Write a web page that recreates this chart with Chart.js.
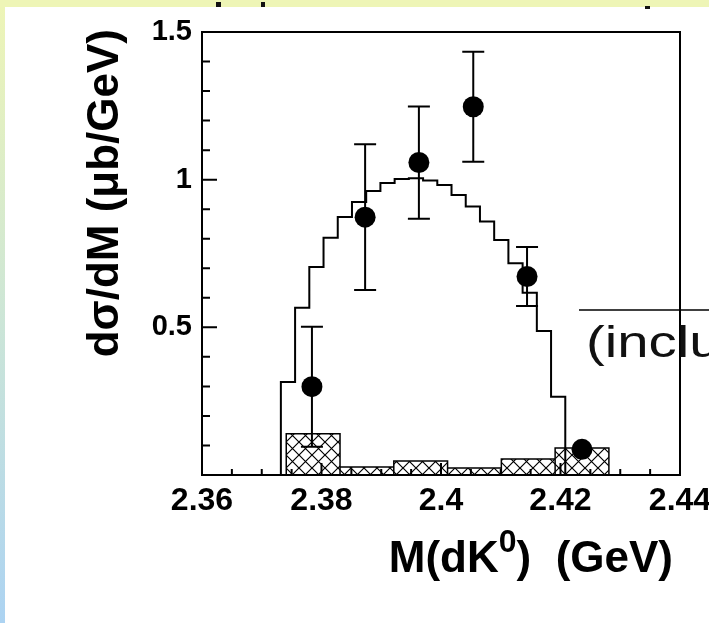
<!DOCTYPE html>
<html>
<head>
<meta charset="utf-8">
<script src="https://cdn.jsdelivr.net/npm/chart.js@4.4.1/dist/chart.umd.min.js"></script>
<style>
  html, body { margin: 0; padding: 0; background: #fff; }
  #wrap { width: 709px; height: 623px; }
</style>
</head>
<body>
<div id="wrap"><canvas id="chart" width="709" height="623"></canvas></div>
<script>
// axis ticks
const xTicks = [2.36, 2.38, 2.40, 2.42, 2.44];
const yTicks = [0, 0.5, 1, 1.5];

// phase space simulation (open histogram), 20 bins between threshold and upper limit
const mcLow = 2.3732;
const mcHigh = 2.4208;
const mcValues = [0.315, 0.566, 0.704, 0.803, 0.874, 0.924, 0.962, 0.989, 1.002, 1.005,
                  0.997, 0.982, 0.948, 0.909, 0.858, 0.796, 0.717, 0.617, 0.488, 0.265];

// hatched histogram
const bgEdges = [2.3741, 2.3831, 2.3921, 2.4011, 2.4101, 2.4191, 2.4281];
const bgValues = [0.14, 0.027, 0.047, 0.024, 0.054, 0.091];

// measured points (last error hidden by the marker)
const pointsX = [2.3784, 2.3873, 2.3963, 2.4054, 2.4144, 2.4236];
const pointsY = [0.299, 0.873, 1.058, 1.247, 0.672, 0.087];
const pointsErr = [0.203, 0.247, 0.19, 0.186, 0.10, 0];

const FONT = "'Liberation Sans', Arial, Helvetica, sans-serif";

// histogram outline as corner points
function stepPoints(edges, values) {
    const pts = [{ x: edges[0], y: 0 }];
    values.forEach((v, i) => {
        pts.push({ x: edges[i], y: v });
        pts.push({ x: edges[i + 1], y: v });
    });
    pts.push({ x: edges[edges.length - 1], y: 0 });
    return pts;
}

// every box closed down to zero (hatched histogram)
function boxPoints(edges, values) {
    const pts = [];
    values.forEach((v, i) => {
        pts.push({ x: edges[i], y: 0 });
        pts.push({ x: edges[i], y: v });
        pts.push({ x: edges[i + 1], y: v });
        pts.push({ x: edges[i + 1], y: 0 });
    });
    return pts;
}

const mcEdges = mcValues.map((_, i) => mcLow + (mcHigh - mcLow) * i / mcValues.length);
mcEdges.push(mcHigh);

function crossHatch() {
    const c = document.createElement("canvas");
    c.width = 13;
    c.height = 13;
    const g = c.getContext("2d");
    g.strokeStyle = "#000";
    g.lineWidth = 1.2;
    g.beginPath();
    g.moveTo(0, 0); g.lineTo(13, 13);
    g.moveTo(13, 0); g.lineTo(0, 13);
    g.stroke();
    return g.createPattern(c, "repeat");
}

const background = {
    id: "background",
    beforeDraw(chart) {
        const { ctx, width, height } = chart;
        ctx.save();
        ctx.fillStyle = "#fff";
        ctx.fillRect(0, 0, width, height);
        const grad = ctx.createLinearGradient(0, 0, 0, height);
        grad.addColorStop(0, "#eef5b6");
        grad.addColorStop(0.5, "#cde6d6");
        grad.addColorStop(1, "#acd3f2");
        ctx.fillStyle = grad;
        ctx.fillRect(0, 0, 5, height);
        ctx.fillStyle = "#eef5b6";
        ctx.fillRect(0, 0, width, 7);
        // bits of cut-off text above
        ctx.fillStyle = "#111";
        ctx.fillRect(216, 2, 5, 5);
        ctx.fillRect(261, 2, 4, 5);
        ctx.fillRect(645, 6, 5, 3);
        ctx.restore();
    },
};

const errorBars = {
    id: "errorBars",
    beforeDatasetDraw(chart, args) {
        if (args.index !== 2) return;
        const { ctx, scales: { x, y } } = chart;
        ctx.save();
        ctx.strokeStyle = "#000";
        ctx.lineWidth = 2;
        ctx.beginPath();
        pointsX.forEach((v, i) => {
            if (!pointsErr[i]) return;
            const px = x.getPixelForValue(v);
            const top = y.getPixelForValue(pointsY[i] + pointsErr[i]);
            const bot = y.getPixelForValue(pointsY[i] - pointsErr[i]);
            ctx.moveTo(px, top); ctx.lineTo(px, bot);
            ctx.moveTo(px - 11, top); ctx.lineTo(px + 11, top);
            ctx.moveTo(px - 11, bot); ctx.lineTo(px + 11, bot);
        });
        ctx.stroke();
        ctx.restore();
    },
};

// box round the plot with ticks pointing inwards
const frame = {
    id: "frame",
    afterDatasetsDraw(chart) {
        const { ctx, chartArea: a, scales: { x, y } } = chart;
        ctx.save();
        ctx.strokeStyle = "#000";
        ctx.lineWidth = 2;
        ctx.strokeRect(a.left, a.top, a.right - a.left, a.bottom - a.top);
        ctx.beginPath();
        for (let k = 0; x.min + k * 0.005 <= x.max + 1e-9; k++) {
            const px = x.getPixelForValue(x.min + k * 0.005);
            ctx.moveTo(px, a.bottom);
            ctx.lineTo(px, a.bottom - (k % 4 === 0 ? 12 : 6));
        }
        for (let k = 0; y.min + k * 0.1 <= y.max + 1e-9; k++) {
            const py = y.getPixelForValue(y.min + k * 0.1);
            ctx.moveTo(a.left, py);
            ctx.lineTo(a.left + (k % 5 === 0 ? 15 : 8), py);
        }
        ctx.stroke();
        ctx.restore();
    },
};

const titles = {
    id: "titles",
    afterDraw(chart) {
        const { ctx, chartArea: a } = chart;
        ctx.save();
        ctx.fillStyle = "#000";
        ctx.textBaseline = "alphabetic";

        // x title with superscript
        const big = "bold 44px " + FONT;
        const small = "bold 32px " + FONT;
        const parts = [["M(dK", big, 0], ["0", small, -20], [")  (GeV)", big, 0]];
        let total = 0;
        parts.forEach(p => { ctx.font = p[1]; p.push(ctx.measureText(p[0]).width); total += p[3]; });
        let tx = a.right - 7 - total;
        const base = a.bottom + 97;
        parts.forEach(p => {
            ctx.font = p[1];
            ctx.fillText(p[0], tx, base + p[2]);
            tx += p[3];
        });

        // y title
        ctx.save();
        ctx.translate(118, a.top - 3);
        ctx.rotate(-Math.PI / 2);
        ctx.font = big;
        ctx.textAlign = "right";
        ctx.fillText("dσ/dM (μb/GeV)", 0, 0);
        ctx.restore();

        // stray annotation cut by the right border
        ctx.strokeStyle = "#000";
        ctx.lineWidth = 1.5;
        ctx.beginPath();
        ctx.moveTo(579, 310);
        ctx.lineTo(chart.width, 310);
        ctx.stroke();
        ctx.save();
        ctx.translate(586, 357);
        ctx.scale(1.28, 1);
        ctx.font = "44px " + FONT;
        ctx.fillStyle = "#111";
        ctx.fillText("(including", 0, 0);
        ctx.restore();

        ctx.restore();
    },
};

const ctx = document.getElementById("chart").getContext("2d");
new Chart(ctx, {
    type: "scatter",
    data: {
        datasets: [
            {
                label: "background",
                type: "line",
                data: boxPoints(bgEdges, bgValues),
                showLine: true,
                borderColor: "#000",
                borderWidth: 1.5,
                backgroundColor: crossHatch(),
                fill: "origin",
                pointRadius: 0,
                tension: 0,
                order: 2,
            },
            {
                label: "phase space",
                type: "line",
                data: stepPoints(mcEdges, mcValues),
                showLine: true,
                borderColor: "#000",
                borderWidth: 2,
                fill: false,
                pointRadius: 0,
                tension: 0,
                order: 1,
            },
            {
                label: "data",
                data: pointsX.map((v, i) => ({ x: v, y: pointsY[i] })),
                pointRadius: 10.5,
                pointBackgroundColor: "#000",
                pointBorderWidth: 0,
                order: 0,
            },
        ],
    },
    options: {
        responsive: false,
        animation: false,
        layout: { padding: { left: 0, top: 32, right: 29, bottom: 0 } },
        plugins: {
            legend: { display: false },
            tooltip: { enabled: false },
        },
        scales: {
            x: {
                type: "linear",
                min: 2.36,
                max: 2.44,
                afterBuildTicks: (s) => { s.ticks = xTicks.map(v => ({ value: v })); },
                afterFit: (s) => { s.height = 148; s.paddingLeft = 0; s.paddingRight = 0; },
                grid: { display: false, drawTicks: false },
                border: { display: false },
                ticks: {
                    autoSkip: false,
                    maxRotation: 0,
                    padding: 7,
                    color: "#000",
                    font: { family: FONT, size: 32, weight: "bold" },
                    callback: (v) => String(+v.toFixed(2)),
                },
            },
            y: {
                type: "linear",
                min: 0,
                max: 1.5,
                afterBuildTicks: (s) => { s.ticks = yTicks.map(v => ({ value: v })); },
                afterFit: (s) => { s.width = 202; s.paddingTop = 0; s.paddingBottom = 0; },
                grid: { display: false, drawTicks: false },
                border: { display: false },
                ticks: {
                    padding: 10,
                    color: "#000",
                    font: { family: FONT, size: 29, weight: "bold" },
                    callback: (v) => (v === 0 ? "" : String(v)),
                },
            },
        },
    },
    plugins: [background, errorBars, frame, titles],
});
</script>
</body>
</html>
